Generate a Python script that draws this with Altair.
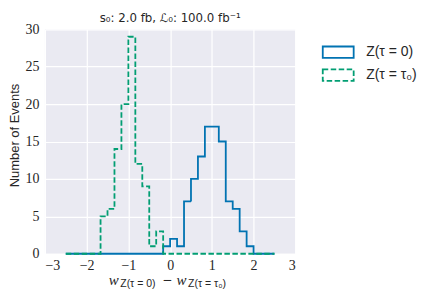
import altair as alt
import numpy as np
import pandas as pd

# bin edges of the histogram (30 bins from -2.5 to 2.5)
edges = [float(e) for e in np.round(np.linspace(-2.5, 2.5, 31), 5)]
series_names = ["Z(τ = 0)", "Z(τ = τ₀)"]
counts_tau_zero = [0, 0, 0, 0, 0, 0, 0, 0, 0, 0, 0, 0, 0, 0, 1,
                   2, 1, 7, 10, 13, 17, 17, 15, 7, 6, 3, 1, 0, 0, 0]
counts_tau_tau0 = [0, 0, 0, 0, 0, 5, 6, 14, 20, 29, 12, 9, 1, 3, 0,
                   0, 0, 0, 0, 0, 0, 0, 0, 0, 0, 0, 0, 0, 0, 0]
x_ticks = [-3, -2, -1, 0, 1, 2, 3]
y_ticks = [0, 5, 10, 15, 20, 25, 30]
title_text = "s₀: 2.0 fb, ℒ₀: 100.0 fb⁻¹"

rows = []
for name, counts in zip(series_names, [counts_tau_zero, counts_tau_tau0]):
    for i, e in enumerate(edges):
        c = counts[i] if i < len(counts) else counts[-1]
        rows.append({"series": name, "edge": e, "count": c, "order": i})
df = pd.DataFrame(rows)

BLUE = "#0173B2"
GREEN = "#029E73"
TXT = "#262626"

lines = alt.Chart(df).mark_line(interpolate="step-after", strokeWidth=1.8).encode(
    x=alt.X("edge:Q", scale=alt.Scale(domain=[-3, 3], nice=False),
            axis=alt.Axis(values=x_ticks, title=None, format="d")),
    y=alt.Y("count:Q", scale=alt.Scale(domain=[0, 30], nice=False),
            axis=alt.Axis(values=y_ticks, title="Number of Events")),
    color=alt.Color("series:N", scale=alt.Scale(domain=series_names, range=[BLUE, GREEN]),
                    legend=alt.Legend(title=None)),
    strokeDash=alt.StrokeDash("series:N", scale=alt.Scale(domain=series_names, range=[[1, 0], [5.5, 2.5]]),
                              legend=alt.Legend(title=None)),
    order="order:Q",
)

one = pd.DataFrame({"k": [0]})
def txt(s, x, y, size, font, style="normal", baseline="alphabetic", align="left"):
    return alt.Chart(one).mark_text(text=s, align=align, baseline=baseline, fontSize=size,
                                    font=font, fontStyle=style, color=TXT).encode(
        x=alt.value(x), y=alt.value(y))

xtitle = (
    txt("w", 64, 256, 15, "Liberation Serif", "italic")
    + txt("Z(τ = 0)", 75.5, 258.5, 10.5, "Liberation Sans")
    + txt("−", 117.5, 251.5, 12, "DejaVu Sans", baseline="middle")
    + txt("w", 132, 256, 15, "Liberation Serif", "italic")
    + txt("Z(τ = τ₀)", 143.5, 258.5, 10.5, "Liberation Sans")
)
top_title = txt(title_text, 125.5, -7.3, 11.8, "DejaVu Sans", align="center")

chart = alt.layer(lines, xtitle, top_title).properties(
    width=251, height=225,
    padding={"left": 37, "top": 21, "right": 133, "bottom": 38},
    autosize=alt.AutoSizeParams(type="none"),
).configure_view(
    fill="#EAEAF2", stroke=None
).configure_axis(
    grid=True, gridColor="white", gridWidth=1.2, domain=False, ticks=False,
    labelFont="Liberation Serif", labelFontSize=14, labelColor=TXT, labelPadding=6,
    titleFont="Liberation Sans", titleFontSize=13, titleFontWeight="normal", titleColor=TXT,
).configure_axisY(titlePadding=3, titleY=106).configure_axisX(labelPadding=5).configure_legend(
    orient="none", legendX=285, legendY=14,
    symbolType="M-2,-0.74H2V0.74H-2Z", symbolSize=240, symbolStrokeWidth=1.8,
    symbolFillColor="transparent",
    labelFont="Liberation Sans", labelFontSize=14, labelColor=TXT, labelOffset=19,
    rowPadding=3, padding=0,
)

chart.save("out.html", embed_options={"renderer": "svg", "actions": False})
